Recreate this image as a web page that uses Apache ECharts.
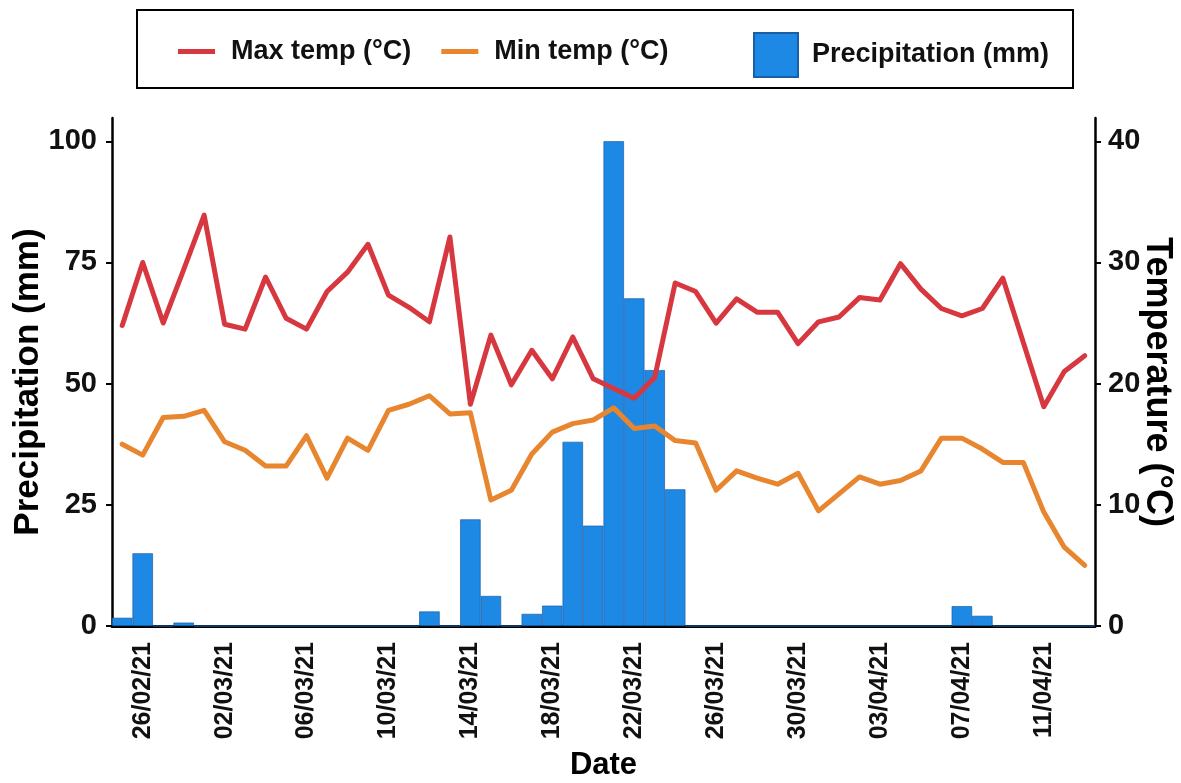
<!DOCTYPE html>
<html>
<head>
<meta charset="utf-8">
<title>Daily temperature and precipitation</title>
<script src="https://cdn.jsdelivr.net/npm/echarts@6/dist/echarts.min.js"></script>
<style>
  html, body { margin: 0; padding: 0; background: #ffffff; }
  #chart { width: 1181px; height: 783px; }
</style>
</head>
<body>
<div id="chart"></div>
<script>
// Daily observations, 25 Feb 2021 – 13 Apr 2021
const dates = [
  '25/02/21', '26/02/21', '27/02/21', '28/02/21',
  '01/03/21', '02/03/21', '03/03/21', '04/03/21', '05/03/21', '06/03/21', '07/03/21', '08/03/21',
  '09/03/21', '10/03/21', '11/03/21', '12/03/21', '13/03/21', '14/03/21', '15/03/21', '16/03/21',
  '17/03/21', '18/03/21', '19/03/21', '20/03/21', '21/03/21', '22/03/21', '23/03/21', '24/03/21',
  '25/03/21', '26/03/21', '27/03/21', '28/03/21', '29/03/21', '30/03/21', '31/03/21',
  '01/04/21', '02/04/21', '03/04/21', '04/04/21', '05/04/21', '06/04/21', '07/04/21', '08/04/21',
  '09/04/21', '10/04/21', '11/04/21', '12/04/21', '13/04/21'
];

// Precipitation (mm)
const precipitation = [
  1.7, 15, 0, 0.7, 0, 0, 0, 0, 0, 0, 0, 0,
  0, 0, 0, 3, 0, 22, 6.2, 0, 2.5, 4.2, 38, 20.7,
  100, 67.6, 52.8, 28.2, 0, 0, 0, 0, 0, 0, 0, 0,
  0, 0, 0, 0, 0, 4.1, 2.1, 0, 0, 0, 0, 0
];

// Max temperature (°C)
const maxTemp = [
  24.8, 30.0, 25.0, 29.4, 33.9, 24.9, 24.5, 28.8, 25.4, 24.5, 27.6, 29.2,
  31.5, 27.3, 26.3, 25.1, 32.1, 18.3, 24.0, 19.9, 22.75, 20.4, 23.85, 20.4,
  19.6, 18.8, 20.5, 28.3, 27.6, 25.0, 27.0, 25.9, 25.9, 23.3, 25.1, 25.5,
  27.1, 26.9, 29.9, 27.8, 26.2, 25.6, 26.2, 28.7, 23.4, 18.1, 21.0, 22.3
];

// Min temperature (°C)
const minTemp = [
  15.0, 14.1, 17.2, 17.3, 17.8, 15.2, 14.5, 13.2, 13.2, 15.7, 12.2, 15.5,
  14.5, 17.8, 18.3, 19.0, 17.5, 17.6, 10.4, 11.2, 14.2, 16.0, 16.7, 17.0,
  18.0, 16.3, 16.5, 15.3, 15.1, 11.2, 12.8, 12.2, 11.7, 12.6, 9.5, 10.9,
  12.3, 11.7, 12.0, 12.8, 15.5, 15.5, 14.6, 13.5, 13.5, 9.4, 6.5, 5.0
];

const precipTicks = [0, 25, 50, 75, 100];
const tempTicks = [0, 10, 20, 30, 40];

// a date label every fourth day, starting on 26/02
const showDateTick = (index) => (index - 1) % 4 === 0;

const FONT = "'Liberation Sans', Arial, sans-serif";
const INK = '#111111';
const MAX_COLOR = '#D7383F';
const MIN_COLOR = '#E8862F';
const RAIN_COLOR = '#1E88E5';

const chart = echarts.init(document.getElementById('chart'), null, { renderer: 'canvas' });

chart.setOption({
  backgroundColor: '#ffffff',
  animation: false,
  textStyle: { fontFamily: FONT },
  graphic: [{
    type: 'rect',
    shape: { x: 137, y: 10, width: 936, height: 78 },
    style: { fill: 'none', stroke: '#000000', lineWidth: 2 },
    silent: true
  }],
  legend: [{
    data: [
      { name: 'Max temp (°C)', icon: 'rect' },
      { name: 'Min temp (°C)', icon: 'rect' }
    ],
    left: 173,
    top: 33,
    itemWidth: 37,
    itemHeight: 5,
    itemGap: 30,
    selectedMode: false,
    textStyle: { fontFamily: FONT, fontSize: 27, fontWeight: 'bold', color: INK, padding: [0, 0, 0, 11] }
  }, {
    data: [{ name: 'Precipitation (mm)', icon: 'rect' }],
    left: 748,
    top: 27,
    itemWidth: 44,
    itemHeight: 44,
    selectedMode: false,
    textStyle: { fontFamily: FONT, fontSize: 27, fontWeight: 'bold', color: INK, padding: [0, 0, 0, 9] }
  }],
  grid: {
    left: 112,
    right: 86,
    top: 118,
    bottom: 157,
    containLabel: false,
    outerBoundsMode: 'none'
  },
  xAxis: {
    type: 'category',
    data: dates,
    boundaryGap: true,
    name: 'Date',
    nameLocation: 'middle',
    nameGap: 124,
    nameMoveOverlap: false,
    nameTextStyle: { fontFamily: FONT, fontSize: 31, fontWeight: 'bold', color: '#000' },
    axisLine: { lineStyle: { color: '#000', width: 3 } },
    axisTick: {
      alignWithLabel: true,
      interval: showDateTick,
      length: 6,
      lineStyle: { color: '#000', width: 2 }
    },
    axisLabel: {
      interval: showDateTick,
      rotate: 90,
      margin: 16,
      fontFamily: FONT,
      fontSize: 25,
      fontWeight: 'bold',
      color: INK
    },
    splitLine: { show: false }
  },
  yAxis: [{
    type: 'value',
    position: 'left',
    min: 0,
    max: 104.8,
    name: 'Precipitation (mm)',
    nameLocation: 'middle',
    nameGap: 66,
    nameMoveOverlap: false,
    nameTextStyle: {
      fontFamily: FONT, fontSize: 35, fontWeight: 'bold', color: '#000',
      padding: [0, 20, 0, 0]
    },
    axisLine: { show: true, lineStyle: { color: '#000', width: 2.5 } },
    axisTick: { show: true, length: 6, customValues: precipTicks, lineStyle: { color: '#000', width: 2 } },
    axisLabel: {
      customValues: precipTicks,
      margin: 15,
      fontFamily: FONT,
      fontSize: 29,
      fontWeight: 'bold',
      color: INK
    },
    splitLine: { show: false }
  }, {
    type: 'value',
    position: 'right',
    min: 0,
    max: 41.92,
    name: 'Temperature (°C)',
    nameLocation: 'middle',
    nameRotate: -90,
    nameGap: 44,
    nameMoveOverlap: false,
    nameTextStyle: {
      fontFamily: FONT, fontSize: 36, fontWeight: 'bold', color: '#000',
      padding: [0, 0, 0, 20]
    },
    axisLine: { show: true, lineStyle: { color: '#000', width: 2.5 } },
    axisTick: { show: true, length: 6, customValues: tempTicks, lineStyle: { color: '#000', width: 2 } },
    axisLabel: {
      customValues: tempTicks,
      margin: 13,
      fontFamily: FONT,
      fontSize: 29,
      fontWeight: 'bold',
      color: INK
    },
    splitLine: { show: false }
  }],
  series: [{
    name: 'Precipitation (mm)',
    type: 'bar',
    yAxisIndex: 0,
    data: precipitation,
    barWidth: '100%',
    itemStyle: { color: RAIN_COLOR, borderColor: '#1A5FA6', borderWidth: 0.7 }
  }, {
    name: 'Max temp (°C)',
    type: 'line',
    yAxisIndex: 1,
    data: maxTemp,
    symbol: 'none',
    showSymbol: false,
    lineStyle: { color: MAX_COLOR, width: 5, cap: 'round', join: 'round' },
    itemStyle: { color: MAX_COLOR }
  }, {
    name: 'Min temp (°C)',
    type: 'line',
    yAxisIndex: 1,
    data: minTemp,
    symbol: 'none',
    showSymbol: false,
    lineStyle: { color: MIN_COLOR, width: 5, cap: 'round', join: 'round' },
    itemStyle: { color: MIN_COLOR }
  }]
});
</script>
</body>
</html>
